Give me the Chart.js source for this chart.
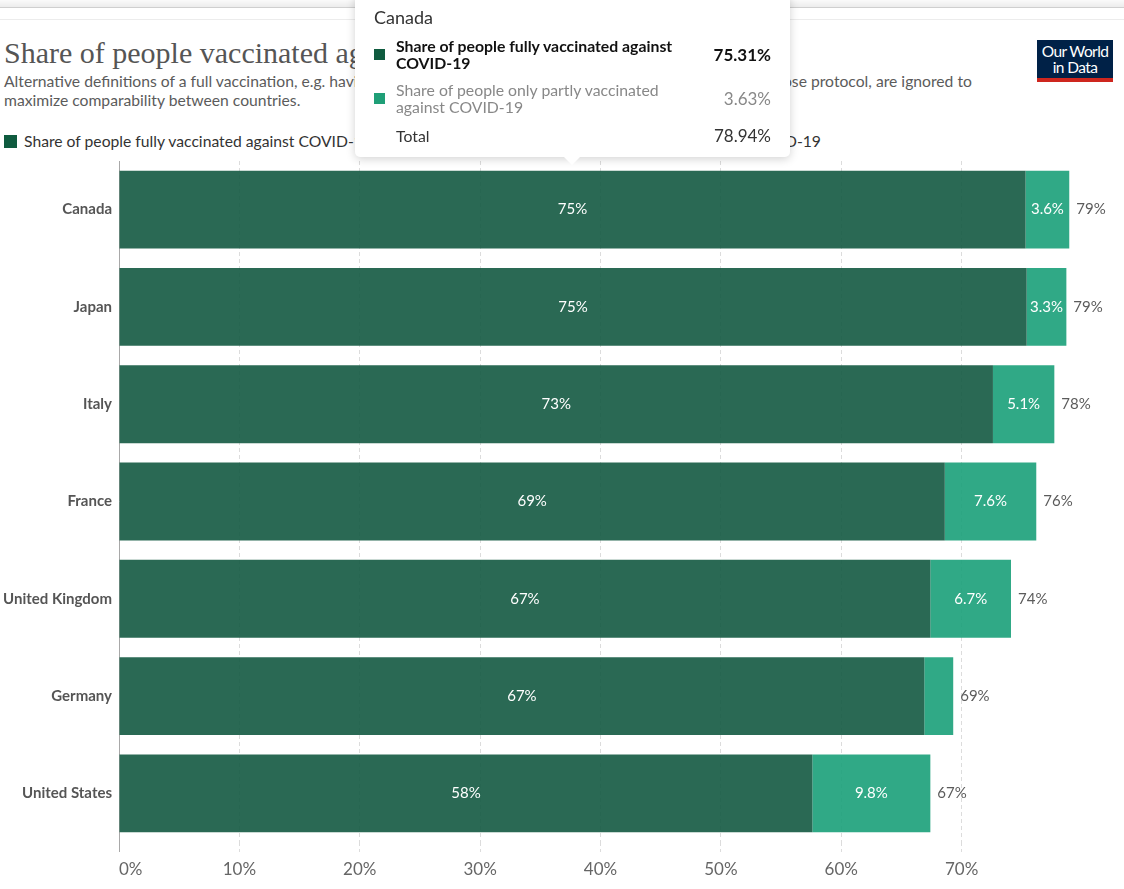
<!DOCTYPE html>
<html lang="en">
<head>
<meta charset="utf-8">
<title>Share of people vaccinated against COVID-19</title>
<script src="https://cdn.jsdelivr.net/npm/chart.js@4.4.0/dist/chart.umd.min.js"></script>
<style>
    html, body {
        margin: 0;
        padding: 0;
        background: #fff;
        font-family: Lato, "Open Sans", sans-serif;
        width: 1124px;
        height: 889px;
        overflow: hidden;
        position: relative;
    }
    .frame-top {
        position: absolute;
        left: 0; top: 0;
        width: 1124px; height: 7px;
        background: linear-gradient(#fafafa, #ececec);
        border-bottom: 1px solid #cfcfcf;
    }
    .frame-line {
        position: absolute;
        left: 0; top: 19px;
        width: 1124px; height: 1px;
        background: #ececec;
    }
    h1 {
        position: absolute;
        left: 4px; top: 35px;
        margin: 0;
        font-family: "Liberation Serif", "DejaVu Serif", serif;
        font-weight: normal;
        font-size: 30px;
        line-height: 36px;
        color: #555;
        white-space: nowrap;
    }
    .subtitle {
        position: absolute;
        left: 4px; top: 72px;
        margin: 0;
        font-size: 15.7px;
        line-height: 19px;
        color: #5b5b5b;
        white-space: nowrap;
    }
    #logo {
        position: absolute;
        left: 1037px; top: 40px;
        width: 76px;
        background: #002147;
        border-bottom: 4px solid #ce261e;
        color: #fff;
        font-size: 15.5px;
        line-height: 16px;
        letter-spacing: -0.6px;
        text-align: center;
        padding-top: 3px;
        height: 35px;
    }
    #legend {
        position: absolute;
        left: 4px; top: 131px;
        font-size: 15.7px;
        line-height: 20px;
        color: #333;
        white-space: nowrap;
    }
    #legend .item { display: inline-block; margin-right: 38px; }
    #legend .sw {
        display: inline-block;
        width: 13px; height: 13px;
        margin-right: 7px;
        vertical-align: -1px;
    }
    #chart-wrap {
        position: absolute;
        left: 0; top: 145px;
        width: 1124px; height: 744px;
    }
    #tooltip {
        position: absolute;
        left: 355px; top: -6px;
        width: 435px; height: 163px;
        background: #fff;
        border-radius: 5px;
        box-shadow: 0 2px 10px rgba(0, 0, 0, 0.18);
        box-sizing: border-box;
        padding: 12px 19px 0 19px;
        color: #333;
    }
    #tooltip .caret {
        position: absolute;
        left: 209px; bottom: -8px;
        width: 0; height: 0;
        border-left: 8px solid transparent;
        border-right: 8px solid transparent;
        border-top: 8px solid #fff;
    }
    #tooltip .tt-title {
        font-size: 18px;
        line-height: 22px;
        margin-bottom: 4px;
    }
    #tooltip table { border-collapse: collapse; width: 100%; }
    #tooltip td { padding: 5px 0; vertical-align: middle; }
    #tooltip td.sw-cell { width: 22px; }
    #tooltip .sw { display: block; width: 11px; height: 11px; }
    #tooltip td.label { font-size: 15.8px; line-height: 17px; width: 292px; }
    #tooltip td.value { font-size: 17px; text-align: right; }
    #tooltip tr.focus td { font-weight: bold; color: #111; }
    #tooltip tr.faded td { color: #888; }
</style>
</head>
<body>
<div class="frame-top"></div>
<div class="frame-line"></div>

<h1>Share of people vaccinated against COVID-19</h1>
<p class="subtitle">Alternative definitions of a full vaccination, e.g. having been infected with SARS-CoV-2 and having 1 dose of a 2-dose protocol, are ignored to<br>maximize comparability between countries.</p>
<div id="logo">Our World<br>in Data</div>
<div id="legend"></div>

<div id="chart-wrap"><canvas id="chart"></canvas></div>
<div id="tooltip"></div>

<script>
// Dados
const countries = ['Canada', 'Japan', 'Italy', 'France', 'United Kingdom', 'Germany', 'United States'];
const fullyVaccinated = [75.31, 75.4, 72.6, 68.6, 67.4, 66.9, 57.6];
const partlyVaccinated = [3.63, 3.3, 5.1, 7.6, 6.7, 2.4, 9.8];
const seriesLabels = [
    'Share of people fully vaccinated against COVID-19',
    'Share of people only partly vaccinated against COVID-19'
];
const xTicks = [0, 10, 20, 30, 40, 50, 60, 70];

// Cores
const swatchColors = ['#0f5b3f', '#1f9f77'];
const barColors = ['rgba(19, 89, 65, 0.9)', 'rgba(25, 160, 121, 0.9)'];

// Legenda em HTML
document.getElementById('legend').innerHTML = seriesLabels.map((label, i) =>
    `<span class="item"><span class="sw" style="background:${swatchColors[i]}"></span>${label}</span>`
).join('');

// Rótulos dentro das barras e total à direita
const barLabels = {
    id: 'barLabels',
    afterDatasetsDraw(chart) {
        const ctx = chart.ctx;
        ctx.save();
        ctx.textBaseline = 'middle';

        chart.data.datasets.forEach((ds, di) => {
            const meta = chart.getDatasetMeta(di);
            meta.data.forEach((bar, i) => {
                const v = ds.data[i];
                const txt = di === 0 ? Math.round(v) + '%' : v.toFixed(1) + '%';
                ctx.font = '15px Lato';
                const w = Math.abs(bar.x - bar.base);
                if (ctx.measureText(txt).width + 6 < w) {
                    ctx.fillStyle = '#fff';
                    ctx.textAlign = 'center';
                    ctx.fillText(txt, (bar.x + bar.base) / 2, bar.y);
                }
            });
        });

        const last = chart.getDatasetMeta(chart.data.datasets.length - 1);
        last.data.forEach((bar, i) => {
            const total = fullyVaccinated[i] + partlyVaccinated[i];
            ctx.font = '15px Lato';
            ctx.fillStyle = '#5b5b5b';
            ctx.textAlign = 'left';
            ctx.fillText(Math.round(total) + '%', bar.x + 7, bar.y);
        });
        ctx.restore();
    }
};

// Tooltip externo (HTML)
function renderTooltip({ tooltip }) {
    const el = document.getElementById('tooltip');
    if (!tooltip.dataPoints || !tooltip.dataPoints.length) return;

    let total = 0;
    let rows = '';
    tooltip.dataPoints.forEach((dp, k) => {
        total += dp.raw;
        rows += `<tr class="${k === 0 ? 'focus' : 'faded'}">
            <td class="sw-cell"><span class="sw" style="background:${swatchColors[dp.datasetIndex]}"></span></td>
            <td class="label">${dp.dataset.label}</td>
            <td class="value">${dp.raw.toFixed(2)}%</td>
        </tr>`;
    });
    rows += `<tr><td></td><td class="label">Total</td><td class="value">${total.toFixed(2)}%</td></tr>`;

    el.innerHTML = `<div class="tt-title">${tooltip.title[0]}</div><table>${rows}</table><div class="caret"></div>`;
}

// O último tick (no máximo do eixo) é invisível, só serve para alinhar o "0%" à esquerda
const isEdgeTick = (c) => c.tick && c.tick.value > xTicks[xTicks.length - 1];

const chart = new Chart(document.getElementById('chart'), {
    type: 'bar',
    data: {
        labels: countries,
        datasets: [
            {
                label: seriesLabels[0],
                data: fullyVaccinated,
                backgroundColor: barColors[0],
                hoverBackgroundColor: barColors[0],
                borderWidth: 0
            },
            {
                label: seriesLabels[1],
                data: partlyVaccinated,
                backgroundColor: barColors[1],
                hoverBackgroundColor: barColors[1],
                borderWidth: 0
            }
        ]
    },
    options: {
        indexAxis: 'y',
        responsive: true,
        maintainAspectRatio: false,
        animation: false,
        events: [],
        layout: { padding: { top: 10, right: 48, left: 0, bottom: 0 } },
        datasets: {
            bar: { barPercentage: 0.8, categoryPercentage: 1.0 }
        },
        scales: {
            x: {
                stacked: true,
                min: 0,
                max: 79.5,
                afterBuildTicks: (axis) => {
                    axis.ticks = xTicks.map(v => ({ value: v }));
                    axis.ticks.push({ value: axis.max });
                },
                afterFit: (scale) => { scale.height = 47; },
                ticks: {
                    color: '#666',
                    font: { family: 'Lato', size: 17 },
                    padding: 7,
                    align: 'inner',
                    autoSkip: false,
                    maxRotation: 0,
                    callback: (value) => value > xTicks[xTicks.length - 1] ? '' : value + '%'
                },
                grid: {
                    color: (c) => isEdgeTick(c) ? 'rgba(0,0,0,0)' : (c.tick && c.tick.value === 0 ? '#a8a8a8' : '#dcdcdc'),
                    tickColor: (c) => isEdgeTick(c) ? 'rgba(0,0,0,0)' : (c.tick && c.tick.value === 0 ? '#a8a8a8' : '#dcdcdc'),
                    tickLength: 10,
                    tickBorderDash: (c) => c.tick && c.tick.value === 0 ? [] : [4, 3]
                },
                border: {
                    display: false,
                    dash: (c) => c.tick && c.tick.value === 0 ? [] : [4, 3]
                }
            },
            y: {
                stacked: true,
                afterFit: (scale) => { scale.width = 119; },
                ticks: {
                    color: '#555',
                    font: { family: 'Lato', size: 15, weight: 'bold' },
                    padding: 7
                },
                grid: { display: false, drawTicks: false },
                border: { display: false }
            }
        },
        plugins: {
            legend: { display: false },
            tooltip: {
                enabled: false,
                mode: 'index',
                external: renderTooltip
            }
        }
    },
    plugins: [barLabels]
});

// Mostrar tooltip do Canadá
chart.tooltip.setActiveElements(
    [{ datasetIndex: 0, index: 0 }, { datasetIndex: 1, index: 0 }],
    { x: 572, y: 58 }
);
chart.update();
</script>
</body>
</html>
